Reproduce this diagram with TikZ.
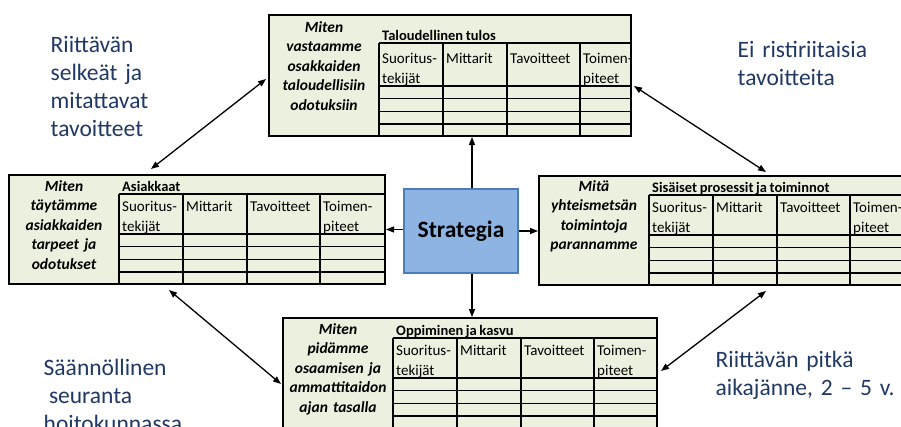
\documentclass[tikz,border=0pt]{standalone}
\usepackage{fontspec}
\setmainfont{Carlito}[WordSpace=0.8]
\usetikzlibrary{arrows.meta,calc,fit}
\definecolor{panelfill}{HTML}{EBF1DE}
\definecolor{navytext}{HTML}{1F3864}
\definecolor{stratfill}{HTML}{8EB4E3}
\definecolor{stratedge}{HTML}{4A7DBA}
\tikzset{
  panel/.style={draw=black, line width=2pt, fill=panelfill, inner sep=0pt},
  heavyrule/.style={line width=1.8pt},
  lightrule/.style={line width=1pt},
  colrule/.style={line width=1.1pt},
  celltext/.style={anchor=base west, inner sep=0pt, font=\fontsize{15}{18}\selectfont},
  titletext/.style={anchor=base west, inner sep=0pt, font=\fontsize{14.5}{18}\selectfont\bfseries},
  labeltext/.style={anchor=base, inner sep=0pt, text width=110pt, align=center, font=\fontsize{15.5}{19.5}\selectfont\bfseries\itshape},
  cornertext/.style={anchor=base west, inner sep=0pt, text width=220pt, align=left, text=navytext, font=\fontsize{23.5}{28}\selectfont},
  stratbox/.style={draw=stratedge, line width=1.5pt, fill=stratfill, minimum width=114pt, minimum height=84pt, inner sep=0pt, font=\fontsize{23.5}{28}\selectfont\bfseries},
  link/.style={line width=1.3pt, -{Triangle[length=8pt,width=6pt]}},
  duallink/.style={line width=1.3pt, {Triangle[length=8pt,width=6pt]}-{Triangle[length=8pt,width=6pt]}},
}
% #1 name, #2 left, #3 top, #4 right, #5 table top, #6 header bottom, #7 title, #8 label, #9 label baseline
\newcommand\bscpanel[9]{%
  \node (#1) [panel, fit={(#2,#3) (#4,{#6+50})}] {};
  \draw[heavyrule] ({#2+110},#5) -- (#4,#5);
  \draw[heavyrule] ({#2+110},#6) -- (#4,#6);
  \draw[heavyrule] ({#2+110},{#6+12.5}) -- (#4,{#6+12.5});
  \draw[lightrule] ({#2+110},{#6+25.5}) -- (#4,{#6+25.5});
  \draw[heavyrule] ({#2+110},{#6+38}) -- (#4,{#6+38});
  \draw[heavyrule] ({#2+110},#5) -- ({#2+110},{#6+50});
  \foreach \cc in {174,238,311} \draw[colrule] ({#2+\cc},#5) -- ({#2+\cc},{#6+50});
  \node (#1a) [celltext] at ({#2+113},{#6-23}) {Suoritus-};
  \node (#1b) [celltext] at ({#2+113},{#6-3}) {tekijät};
  \node (#1c) [celltext] at ({#2+177},{#6-23}) {Mittarit};
  \node (#1d) [celltext] at ({#2+241},{#6-23}) {Tavoitteet};
  \node (#1e) [celltext] at ({#2+314},{#6-23}) {Toimen-};
  \node (#1f) [celltext] at ({#2+314},{#6-3}) {piteet};
  \node (#1g) [titletext] at ({#2+113},{#5-3}) {#7};
  \node (#1h) [labeltext] at ({#2+55},#9) {#8};
}
\begin{document}
\begin{tikzpicture}[x=1pt,y=-1pt]
\useasboundingbox (0,0) rectangle (901,426);
\clip (0,0) rectangle (901,426);

\bscpanel{fin}{269}{15}{631}{43}{86}{Taloudellinen tulos}{Miten\\vastaamme\\osakkaiden\\taloudellisiin\\odotuksiin}{32}
\bscpanel{cust}{9}{175}{385}{194}{234}{Asiakkaat}{Miten\\täytämme\\asiakkaiden\\tarpeet ja\\odotukset}{191}
\bscpanel{proc}{539}{176}{920}{195}{235}{Sisäiset prosessit ja toiminnot}{Mitä\\yhteismetsän\\toimintoja\\parannamme}{191}
\bscpanel{learn}{283}{318}{657}{338}{378}{Oppiminen ja kasvu}{Miten\\pidämme\\osaamisen ja\\ammattitaidon\\ajan tasalla}{334}

\node (strat) [stratbox] at (461,231) {Strategia};

\coordinate (stemtop) at ([xshift=11pt]strat.north);
\coordinate (stembot) at ([xshift=11pt]strat.south);
\draw[link] (stemtop) -- (stemtop |- fin.south);
\draw[link] (stembot) -- (stembot |- learn.north);
\draw[link] ([yshift=1.5pt]strat.west) -- ([yshift=1.5pt]strat.west -| cust.east);
\draw[link] (strat.east) -- (strat.east -| proc.west);

\draw[duallink] ($(cust.north west)+(143,-5)$) -- ($(fin.north west)+(-2,65)$);
\draw[duallink] ($(fin.north east)+(2,72)$) -- ($(proc.north west)+(228,-3)$);
\draw[duallink] ($(proc.south west)+(228,5)$) -- ($(learn.north east)+(3,54)$);
\draw[duallink] ($(cust.south west)+(161,5)$) -- ($(learn.north west)+(-1,67)$);

\node (tl) [cornertext] at (50.5,52) {Riittävän\\selkeät ja\\mitattavat\\tavoitteet};
\node (tr) [cornertext] at (737.5,57) {Ei ristiriitaisia\\tavoitteita};
\node (bl) [cornertext] at (43.5,375.5) {Säännöllinen\\\hspace*{5.3pt}seuranta\\hoitokunnassa};
\node (br) [cornertext] at (715.5,367) {Riittävän pitkä\\aikajänne, 2 – 5 v.};
\end{tikzpicture}
\end{document}
